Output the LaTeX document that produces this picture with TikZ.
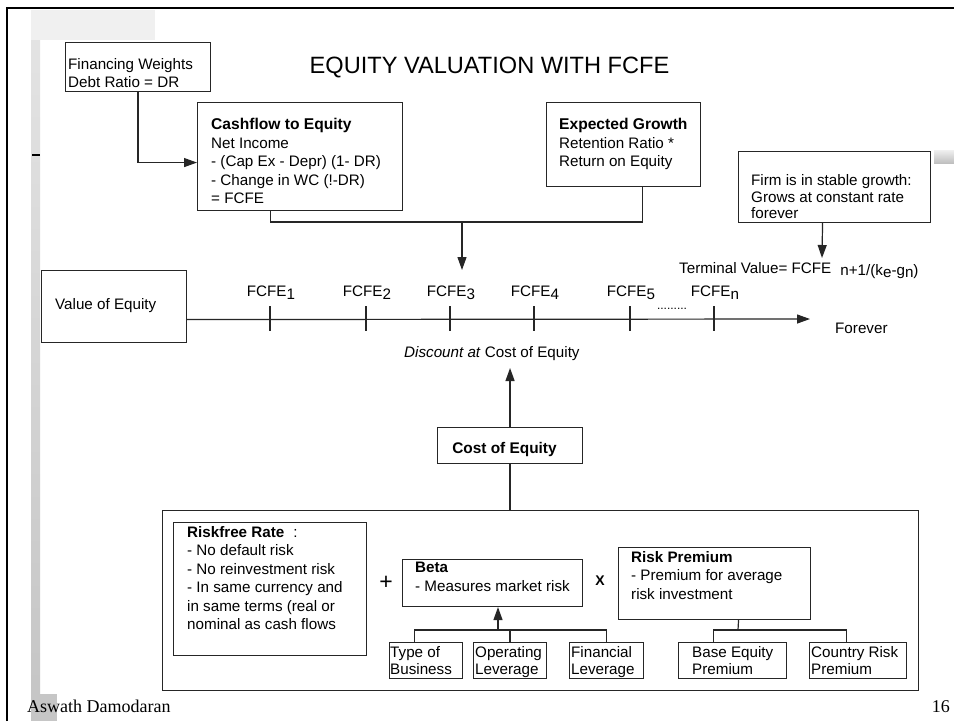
\documentclass[tikz,border=0pt]{standalone}
\usepackage{fontspec}
\setmainfont{Liberation Sans}
\newfontfamily\footfont{Liberation Serif}
\usetikzlibrary{arrows.meta,calc}
\begin{document}
\begin{tikzpicture}[x=1pt,y=-1pt,
  boxst/.style={draw=black!85, line width=1.1pt, inner sep=0pt, anchor=north west},
  txt/.style={anchor=north west, inner sep=0pt, align=left, font=\fontsize{15.2}{18.5}\selectfont},
  smalltxt/.style={txt, font=\fontsize{15.2}{17.5}\selectfont},
  lbl/.style={anchor=base, inner sep=0pt, font=\fontsize{15.2}{18.5}\selectfont},
  conn/.style={draw=black!85, line width=1.2pt},
  arr/.style={conn, -{Triangle[length=13pt,width=9pt]}},
]
\useasboundingbox (0,0) rectangle (954,721);
\fill[white] (0,0) rectangle (954,721);

% slide decoration
\fill[gray!12] (31,10) rectangle (155,40);
\shade[top color=gray!22, bottom color=gray!45] (31,40) rectangle (40,694);
\fill[gray!45] (31,694) rectangle (57,721);
\draw[line width=2pt] (32,155) -- (40,155);
\shade[top color=gray!12, bottom color=gray!50] (934,150) rectangle (954,163);
\draw[line width=2.5pt, line join=miter] (7,721) -- (7,8) -- (954,8);

% title
\node[anchor=base, inner sep=0pt, font=\fontsize{23.6}{27}\selectfont] (title) at (489.5,73) {EQUITY VALUATION WITH FCFE};

% boxes
\node[boxst, minimum width=145pt, minimum height=49pt]  (fin)  at (65,42)   {};
\node[boxst, minimum width=205pt, minimum height=108pt] (cf)   at (197,102) {};
\node[boxst, minimum width=154pt, minimum height=84pt]  (eg)   at (546,102) {};
\node[boxst, minimum width=192pt, minimum height=71pt]  (firm) at (738,151) {};
\node[boxst, minimum width=145pt, minimum height=72pt]  (voe)  at (41,270)  {};
\node[boxst, minimum width=145pt, minimum height=36pt]  (coe)  at (437,427) {};
\node[boxst, minimum width=756pt, minimum height=180pt] (big)  at (162,510) {};
\node[boxst, minimum width=193pt, minimum height=133pt] (rf)   at (173,522) {};
\node[boxst, minimum width=180pt, minimum height=47pt]  (beta) at (402,559) {};
\node[boxst, minimum width=192pt, minimum height=72pt]  (rp)   at (618,547) {};
\node[boxst, minimum width=73pt,  minimum height=36pt]  (tob)  at (389,642) {};
\node[boxst, minimum width=73pt,  minimum height=36pt]  (opl)  at (473,642) {};
\node[boxst, minimum width=74pt,  minimum height=36pt]  (finl) at (569,642) {};
\node[boxst, minimum width=108pt, minimum height=36pt]  (bep)  at (678,642) {};
\node[boxst, minimum width=97pt,  minimum height=36pt]  (crp)  at (809,642) {};

% box texts
\node[txt] (fint)  at (68,58)   {Financing Weights\\Debt Ratio = DR};
\node[txt] (cft)   at (211,118) {\textbf{\fontsize{15.6}{18.5}\selectfont Cashflow to Equity}\\Net Income\\- (Cap Ex - Depr) (1- DR)\\- Change in WC (!-DR)\\= FCFE};
\node[txt] (egt)   at (559,118) {\textbf{\fontsize{15.6}{18.5}\selectfont Expected Growth}\\Retention Ratio *\\Return on Equity};
\node[txt, font=\fontsize{15.2}{16.5}\selectfont] (firmt) at (751,174.5) {Firm is in stable growth:\\Grows at constant rate\\forever};
\node[txt] (voet)  at (55,298)  {Value of Equity};
\node[lbl, font=\bfseries\fontsize{15.4}{18}\selectfont] (coet) at (504.5,453) {Cost of Equity};
\node[txt] (rft)   at (187,526) {\textbf{Riskfree Rate}\hspace{9pt}:\\- No default risk\\- No reinvestment risk\\- In same currency and\\in same terms (real or\\nominal as cash flows};
\node[txt] (betat) at (415,562) {\textbf{Beta}\\- Measures market risk};
\node[txt] (rpt)   at (631,551) {\textbf{Risk Premium}\\- Premium for average\\risk investment};
\node[smalltxt] (tobt)  at (390,646) {Type of\\Business};
\node[smalltxt] (oplt)  at (475,646) {Operating\\Leverage};
\node[smalltxt] (finlt) at (571,646) {Financial\\Leverage};
\node[smalltxt] (bept)  at (692,646) {Base Equity\\Premium};
\node[smalltxt] (crpt)  at (811,646) {Country Risk\\Premium};

% operators
\node[inner sep=0pt, font=\fontsize{23}{23}\selectfont] (plus) at (386,583) {+};
\node[inner sep=0pt, font=\bfseries\fontsize{14}{14}\selectfont] (times) at (600,580.5) {X};

% time line
\foreach \x/\s/\n in {270/1/f1, 366/2/f2, 450/3/f3, 534/4/f4, 630/5/f5, 714/n/fn} {
  \draw[conn] (\x,306) -- (\x,331);
  \node[lbl] (\n) at (\x+1,296) {FCFE\raisebox{-3pt}{\s}};
}
\node[inner sep=0pt, anchor=base, font=\fontsize{12}{12}\selectfont] (dots) at (672,309) {.........};
\node[lbl, anchor=base west] (forever) at (835,333.5) {Forever};
\node[lbl, anchor=base west] (disc) at (404,357.5) {\textit{Discount at} Cost of Equity};
\node[lbl, anchor=base west] (tv) at (679,273) {Terminal Value= FCFE\hspace{9pt}\raisebox{-2.5pt}{n+1/(k\raisebox{-1.5pt}{e}-g\raisebox{-1.5pt}{n})}};

% footer
\node[anchor=base west, inner sep=0pt, font=\footfont\fontsize{18}{20}\selectfont] (author) at (27,712) {Aswath Damodaran};
\node[anchor=base east, inner sep=0pt, font=\footfont\fontsize{18}{20}\selectfont] (page) at (950,712) {16};

% connector points
\coordinate (join)    at (462,222);
\coordinate (tip3)    at (462,270);
\coordinate (tvtip)   at (822,258);
\coordinate (tlend)   at (810,319);
\coordinate (disctip) at (509,368);
\coordinate (bj)      at (498,630);
\coordinate (rpj)     at (738,630);
\coordinate (cfB)  at ([xshift=-29.5pt]cf.south);
\coordinate (egB)  at ([xshift=19pt]eg.south);
\coordinate (firmB) at ([xshift=-12pt]firm.south);
\coordinate (voeR) at ([yshift=-13pt]voe.east);
\coordinate (tobT) at ([xshift=-11.5pt]tob.north);
\coordinate (rpB)  at ([xshift=24pt]rp.south);
\coordinate (bepT) at ([xshift=-19pt]bep.north);
\coordinate (crpT) at ([xshift=-11.5pt]crp.north);

% connectors
\draw[arr] (fin.south) |- ([yshift=-6pt]cf.west);
\draw[conn] (cfB) |- (join);
\draw[conn] (egB) |- (join);
\draw[arr] (join) -- (tip3);
\draw[arr] (firmB) -- (tvtip);
\draw[arr] (voeR) -- (tlend);
\draw[arr] (coe.north) -- (coe.north |- disctip);
\draw[conn] (coe.south) -- (coe.south |- big.north);
\draw[conn] (tobT) |- (finl.north |- bj) -- (finl.north);
\draw[conn] (opl.north) -- (opl.north |- bj);
\draw[arr] (bj) -- (bj |- beta.south);
\draw[conn] (rpB) -- (rpj);
\draw[conn] (bepT) |- (crpT |- rpj) -- (crpT);
\end{tikzpicture}
\end{document}
